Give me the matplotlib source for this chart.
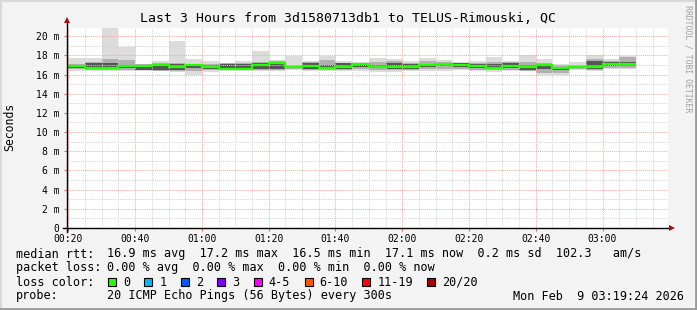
import matplotlib
matplotlib.use('Agg')
import matplotlib.pyplot as plt
from matplotlib.lines import Line2D
from matplotlib.patches import Rectangle
from matplotlib.ticker import MultipleLocator, FuncFormatter

plt.rcParams['font.family'] = ['DejaVu Sans Mono']

# 5 minute bins (start time of each bin)
bin_times = ["00:20", "00:25", "00:30", "00:35", "00:40", "00:45", "00:50", "00:55",
             "01:00", "01:05", "01:10", "01:15", "01:20", "01:25", "01:30", "01:35",
             "01:40", "01:45", "01:50", "01:55", "02:00", "02:05", "02:10", "02:15",
             "02:20", "02:25", "02:30", "02:35", "02:40", "02:45", "02:50", "02:55",
             "03:00", "03:05"]

# rtt in ms
rtt_max = [17.74, 17.70, 21.00, 18.85, 17.10, 17.40, 19.50, 17.65, 17.40, 17.20,
           17.40, 18.40, 17.55, 17.90, 17.45, 17.90, 17.45, 17.35, 17.70, 17.60,
           17.40, 17.75, 17.55, 17.30, 17.40, 17.80, 17.45, 18.00, 17.65, 17.10,
           17.35, 18.00, 17.65, 17.90]
mid_hi = [17.10, 17.30, 17.60, 17.50, 17.05, 17.20, 17.20, 17.10, 17.05, 17.15,
          17.20, 17.30, 17.40, 17.00, 17.30, 17.55, 17.25, 17.20, 17.30, 17.45,
          17.25, 17.40, 17.30, 17.25, 17.20, 17.35, 17.30, 17.30, 17.20, 16.95,
          17.00, 17.60, 17.40, 17.80]
dark_hi = [16.95, 17.20, 17.25, 17.00, 16.95, 17.10, 17.10, 17.00, 16.95, 17.10,
           17.10, 17.20, 17.30, 16.90, 17.15, 17.00, 17.15, 17.10, 17.00, 17.20,
           17.10, 17.10, 17.15, 17.15, 17.05, 17.05, 17.15, 17.00, 17.00, 16.80,
           16.90, 17.40, 17.30, 17.30]
median = [16.90, 16.65, 16.70, 16.85, 16.90, 16.95, 16.80, 16.95, 16.75, 16.60,
          16.60, 17.00, 17.20, 16.80, 16.85, 16.65, 16.80, 17.05, 16.80, 16.75,
          16.75, 16.95, 17.10, 17.00, 16.85, 16.70, 16.90, 16.80, 16.95, 16.65,
          16.75, 16.75, 17.10, 17.10]
dark_lo = [16.70, 16.55, 16.60, 16.70, 16.50, 16.50, 16.45, 16.70, 16.60, 16.55,
           16.55, 16.60, 16.60, 16.70, 16.55, 16.55, 16.55, 16.80, 16.65, 16.60,
           16.60, 16.75, 16.90, 16.75, 16.70, 16.60, 16.70, 16.45, 16.55, 16.45,
           16.65, 16.60, 16.85, 16.85]
mid_lo = [16.55, 16.45, 16.45, 16.50, 16.45, 16.40, 16.35, 16.40, 16.45, 16.45,
          16.45, 16.50, 16.50, 16.60, 16.45, 16.45, 16.45, 16.60, 16.50, 16.45,
          16.45, 16.55, 16.60, 16.55, 16.50, 16.45, 16.50, 16.40, 16.20, 16.20,
          16.55, 16.45, 16.70, 16.70]
rtt_min = [16.35, 16.35, 16.35, 16.35, 16.40, 16.35, 16.30, 16.00, 16.25, 16.40,
           16.40, 16.40, 16.40, 16.50, 16.35, 16.35, 16.35, 16.40, 16.30, 16.25,
           16.35, 16.40, 16.40, 16.45, 16.35, 16.25, 16.40, 16.35, 15.90, 15.95,
           16.45, 16.35, 16.60, 16.55]

loss_labels = ["0", "1", "2", "3", "4-5", "6-10", "11-19", "20/20"]
loss_colors = ["#26ff00", "#00b8ff", "#0059ff", "#7e00ff", "#ff00ff", "#ff5500", "#ff0000", "#a10000"]

W, H = 697, 310
fig = plt.figure(figsize=(W / 100, H / 100), dpi=100, facecolor='#f3f3f3')


def px(x, y):
    return x / W, 1 - y / H


left, right, top, bottom = 67, 668, 27.5, 228
ax = fig.add_axes([left / W, 1 - bottom / H, (right - left) / W, (bottom - top) / H])
ax.set_facecolor('white')

starts = [int(t[:2]) * 60 + int(t[3:]) for t in bin_times]
step = 5
edges = starts + [starts[-1] + step]

layers = [(rtt_min, rtt_max, '#dcdcdc'), (mid_lo, mid_hi, '#b0b0b0'), (dark_lo, dark_hi, '#555555')]
for lo, hi, col in layers:
    ax.bar(starts, [h - l for l, h in zip(lo, hi)], bottom=lo, width=step, align='edge',
           color=col, linewidth=0, zorder=1)
ax.stairs(median, edges, color='#26ff00', linewidth=1.6, zorder=4, baseline=None)

ax.set_xlim(19.6, 199.6)
ax.set_ylim(0, 20.9)

ax.xaxis.set_major_locator(MultipleLocator(20))
ax.xaxis.set_minor_locator(MultipleLocator(5))
ax.yaxis.set_major_locator(MultipleLocator(2))
ax.yaxis.set_minor_locator(MultipleLocator(1))
ax.xaxis.set_major_formatter(FuncFormatter(lambda v, p: f"{int(v) // 60:02d}:{int(v) % 60:02d}"))
ax.yaxis.set_major_formatter(FuncFormatter(lambda v, p: "0" if v == 0 else f"{int(v)} m"))

ax.set_axisbelow(False)
ax.grid(which='minor', color='#d2d2d2', linestyle=(0, (1, 1)), linewidth=0.7, zorder=2)
ax.grid(which='major', color='#f4a8a8', linestyle=(0, (1, 1)), linewidth=0.7, zorder=2.5)

ax.tick_params(which='minor', length=0)
ax.tick_params(which='major', length=2.5, color='#d07070', width=0.8, labelsize=7, pad=1.5)
ax.tick_params(axis='y', pad=3)

for s in ['top', 'right', 'left', 'bottom']:
    ax.spines[s].set_visible(False)

# axes with arrows
ax.plot([-4 / 601, 1.0], [0, 0], color='black', lw=1, transform=ax.transAxes, clip_on=False, zorder=5)
ax.plot([0, 0], [-4 / 201, 1.03], color='black', lw=1, transform=ax.transAxes, clip_on=False, zorder=5)
ax.plot([1.006], [0], marker='>', color='#a01010', markersize=5, transform=ax.transAxes,
        clip_on=False, zorder=6, markeredgewidth=0)
ax.plot([0], [1.035], marker='^', color='#a01010', markersize=5, transform=ax.transAxes,
        clip_on=False, zorder=6, markeredgewidth=0)

fig.text(*px(348.5, 19), "Last 3 Hours from 3d1580713db1 to TELUS-Rimouski, QC",
         ha='center', va='center', fontsize=9.5)
fig.text(*px(10, 127), "Seconds", rotation=90, ha='center', va='center', fontsize=8.3)
fig.text(*px(688, 5), "RRDTOOL / TOBI OETIKER", rotation=270, ha='center', va='top',
         fontsize=5.9, color='#a0a0a0')

fs = 8.5
fig.text(*px(16, 254), "median rtt:", va='center', fontsize=fs)
fig.text(*px(107, 254), "16.9 ms avg  17.2 ms max  16.5 ms min  17.1 ms now  0.2 ms sd  102.3   am/s",
         va='center', fontsize=fs)
fig.text(*px(16, 268), "packet loss:", va='center', fontsize=fs)
fig.text(*px(107, 268), "0.00 % avg  0.00 % max  0.00 % min  0.00 % now", va='center', fontsize=fs)
fig.text(*px(16, 282), "loss color:", va='center', fontsize=fs)
cw = 7.15
x = 108
for lab, col in zip(loss_labels, loss_colors):
    fig.add_artist(Rectangle(px(x, 286), 8 / W, 8 / H, facecolor=col, edgecolor='black',
                             linewidth=0.8, transform=fig.transFigure))
    fig.text(*px(x + 15, 282), lab, va='center', fontsize=fs)
    x += 15 + (len(lab) + 2) * cw
fig.text(*px(16, 296), "probe:", va='center', fontsize=fs)
fig.text(*px(107, 296), "20 ICMP Echo Pings (56 Bytes) every 300s", va='center', fontsize=fs)
fig.text(*px(513, 296), "Mon Feb  9 03:19:24 2026", va='center', fontsize=fs)

# 3d frame
fig.add_artist(Line2D([0, 1], [1 - 0.5 / H, 1 - 0.5 / H], color='#d8d8d8', lw=1.5, transform=fig.transFigure))
fig.add_artist(Line2D([0.5 / W, 0.5 / W], [0, 1], color='#d8d8d8', lw=1.5, transform=fig.transFigure))
fig.add_artist(Line2D([0, 1], [1.2 / H, 1.2 / H], color='#9a9a9a', lw=2, transform=fig.transFigure))
fig.add_artist(Line2D([1 - 1.2 / W, 1 - 1.2 / W], [0, 1], color='#9a9a9a', lw=2, transform=fig.transFigure))

fig.savefig('out.png', dpi=100, facecolor=fig.get_facecolor())
